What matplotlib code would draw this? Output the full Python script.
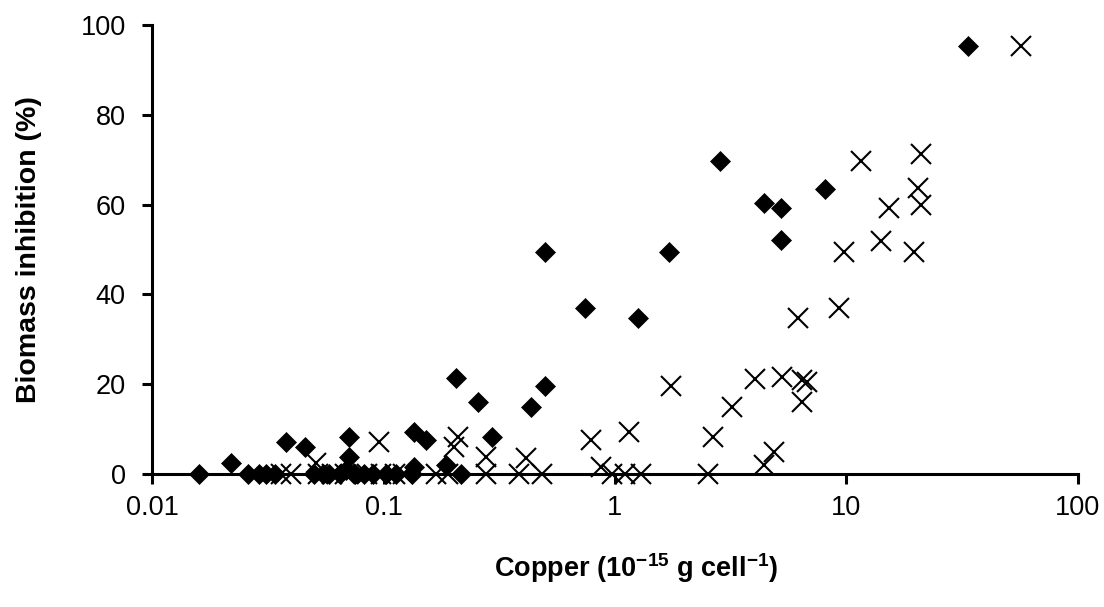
import matplotlib
matplotlib.use("Agg")
import matplotlib.pyplot as plt
from matplotlib.ticker import FixedLocator, FixedFormatter, NullLocator

plt.rcParams['font.family'] = ['Liberation Sans', 'DejaVu Sans']
plt.rcParams['mathtext.fontset'] = 'custom'
plt.rcParams['mathtext.rm'] = 'Liberation Sans'
plt.rcParams['mathtext.bf'] = 'Liberation Sans:bold'

# Series 1: filled diamonds
diamond_x = [0.016, 0.026, 0.029, 0.031, 0.034, 0.050, 0.055, 0.058, 0.065, 0.075,
             0.082, 0.090, 0.103, 0.113, 0.133, 0.216,
             0.022, 0.038, 0.046, 0.0706, 0.0706, 0.069, 0.136, 0.153, 0.136, 0.186,
             0.2057, 0.255, 0.293, 0.433, 0.498, 0.498, 0.74, 1.26, 1.71, 2.84,
             4.42, 5.21, 5.21, 8.09, 33.4]
diamond_y = [0, 0, 0, 0, 0, 0, 0, 0, 0, 0,
             0, 0, 0, 0, 0, 0,
             2.5, 7.2, 6.1, 8.2, 3.9, 1.0, 9.4, 7.6, 1.5, 2.0,
             21.3, 16.0, 8.2, 15.0, 19.7, 49.4, 36.9, 34.8, 49.4, 69.7,
             60.3, 59.3, 52.1, 63.5, 95.3]

# Series 2: crosses
cross_x = [0.036, 0.040, 0.052, 0.060, 0.068, 0.085, 0.098, 0.112, 0.122, 0.169,
           0.19, 0.277, 0.385, 0.486, 0.97, 1.11, 1.30, 2.53,
           0.051, 0.096, 0.202, 0.21, 0.277, 0.412, 0.79, 0.867, 1.15, 1.75,
           2.65, 3.2, 4.04, 4.39, 4.84, 5.26, 6.15, 6.42, 6.75, 6.42,
           9.24, 9.77, 11.5, 14.1, 15.2, 19.6, 20.4, 20.9, 20.9, 57.0]
cross_y = [0, 0, 0, 0, 0, 0, 0, 0, 0, 0,
           0, 0, 0, 0, 0, 0, 0, 0,
           2.5, 7.2, 6.1, 8.2, 3.9, 3.5, 7.6, 1.6, 9.3, 19.7,
           8.2, 15.0, 21.2, 2.0, 5.0, 21.7, 34.7, 20.9, 20.6, 16.0,
           36.9, 49.4, 69.8, 52.0, 59.2, 49.4, 63.6, 59.9, 71.3, 95.3]

x_ticks = [0.01, 0.1, 1, 10, 100]
x_tick_labels = ['0.01', '0.1', '1', '10', '100']
y_ticks = [0, 20, 40, 60, 80, 100]

fig = plt.figure(figsize=(11.04, 6.07), dpi=100)
ax = fig.add_axes([0.1377, 0.219, 0.9764 - 0.1377, 0.9588 - 0.219])

ax.plot(diamond_x, diamond_y, linestyle='none', marker='D', markersize=10,
        color='black', markeredgewidth=0.5, clip_on=False, zorder=3)
ax.plot(cross_x, cross_y, linestyle='none', marker='x', markersize=14,
        color='black', markeredgewidth=1.5, clip_on=False, zorder=3)

ax.set_xscale('log')
ax.set_xlim(0.01, 100)
ax.set_ylim(0, 100)
ax.xaxis.set_major_locator(FixedLocator(x_ticks))
ax.xaxis.set_major_formatter(FixedFormatter(x_tick_labels))
ax.xaxis.set_minor_locator(NullLocator())
ax.yaxis.set_major_locator(FixedLocator(y_ticks))

for s in ['top', 'right']:
    ax.spines[s].set_visible(False)
for s in ['left', 'bottom']:
    ax.spines[s].set_linewidth(2.2)
    ax.spines[s].set_zorder(2)

ax.tick_params(axis='both', which='major', direction='out', length=7, width=2.2,
               labelsize=19.5, colors='black')
ax.tick_params(axis='x', pad=8)
ax.tick_params(axis='y', pad=12)

ax.set_ylabel('Biomass inhibition (%)', fontsize=20.5, fontweight='bold')
ax.yaxis.set_label_coords(-0.119, 0.5)
ax.set_xlabel(r'Copper (10$^{\mathbf{-15}}$ g cell$^{\mathbf{-1}}$)', fontsize=19.5,
              fontweight='bold')
ax.xaxis.set_label_coords(0.523, -0.172)

fig.savefig('out.png', dpi=100, facecolor='white')
